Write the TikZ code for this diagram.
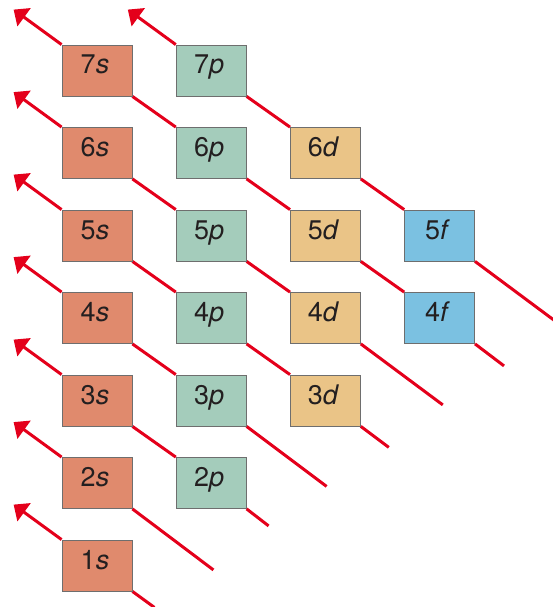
\documentclass[tikz,border=0pt]{standalone}
\usepackage{fontspec}
\setmainfont{TeX Gyre Heros}
\usetikzlibrary{arrows.meta,positioning,backgrounds}
\definecolor{sorb}{HTML}{E08A6D}
\definecolor{porb}{HTML}{A4CCBB}
\definecolor{dorb}{HTML}{EAC487}
\definecolor{forb}{HTML}{7BC1E1}
\definecolor{boxgray}{HTML}{6E6E6E}
\definecolor{fillred}{HTML}{E4001B}
\definecolor{orbtext}{HTML}{231F20}
\newcommand{\orblabel}[2]{#1\textit{#2}\kern4pt}
\begin{document}
\begin{tikzpicture}[x=1pt, y=-1pt,
        orb/.style={draw=boxgray, line width=0.8pt, minimum width=70pt, minimum height=51pt,
            inner sep=0pt, text height=19pt, text depth=12pt, text=orbtext,
            font=\fontsize{27}{31}\selectfont},
        fillline/.style={draw=fillred, line width=3pt},
        fillarrow/.style={fillline, -{Triangle[length=13pt,width=22pt]}}]
    \useasboundingbox (0,0) rectangle (552,607);

    % orbital boxes
    \foreach \n in {1,...,7}
        \node[orb, fill=sorb] (s\n) at (97, {70.5+(7-\n)*82.5}) {\orblabel{\n}{s}};
    \foreach \n in {2,...,7}
        \node[orb, fill=porb] (p\n) at (211.2, {70.5+(7-\n)*82.5}) {\orblabel{\n}{p}};
    \foreach \n in {3,...,6}
        \node[orb, fill=dorb] (d\n) at (325.4, {70.5+(7-\n)*82.5}) {\orblabel{\n}{d}};
    \foreach \n in {4,5}
        \node[orb, fill=forb] (f\n) at (439.6, {70.5+(7-\n)*82.5}) {\orblabel{\n}{f}};

    % arrow tips and line ends
    \foreach \top in {s1,s2,s3,s4,s5,s6,s7,p7}
        \coordinate[above left=35pt and 48pt of \top.north west] (tip\top);
    \foreach \last/\dx/\dy in {s1/22/16, p2/22/17, d3/28/21, f4/29/22,
            s2/81/61, p3/80/60, d4/82/61, f5/82/61}
        \coordinate[below right=\dy pt and \dx pt of \last.south east] (end\last);

    \begin{scope}[on background layer]
        \foreach \top in {s1,s2,s3,s4,s5,s6,s7,p7}
            \draw[fillarrow] (\top.north west) -- (tip\top);
        \foreach \a/\b in {s3/p2, s4/p3, s5/p4, p4/d3, s6/p5, p5/d4,
                s7/p6, p6/d5, d5/f4, p7/d6, d6/f5}
            \draw[fillline] (\a.south east) -- (\b.north west);
        \foreach \last in {s1,s2,p2,p3,d3,d4,f4,f5}
            \draw[fillline] (\last.south east) -- (end\last);
    \end{scope}
\end{tikzpicture}
\end{document}
